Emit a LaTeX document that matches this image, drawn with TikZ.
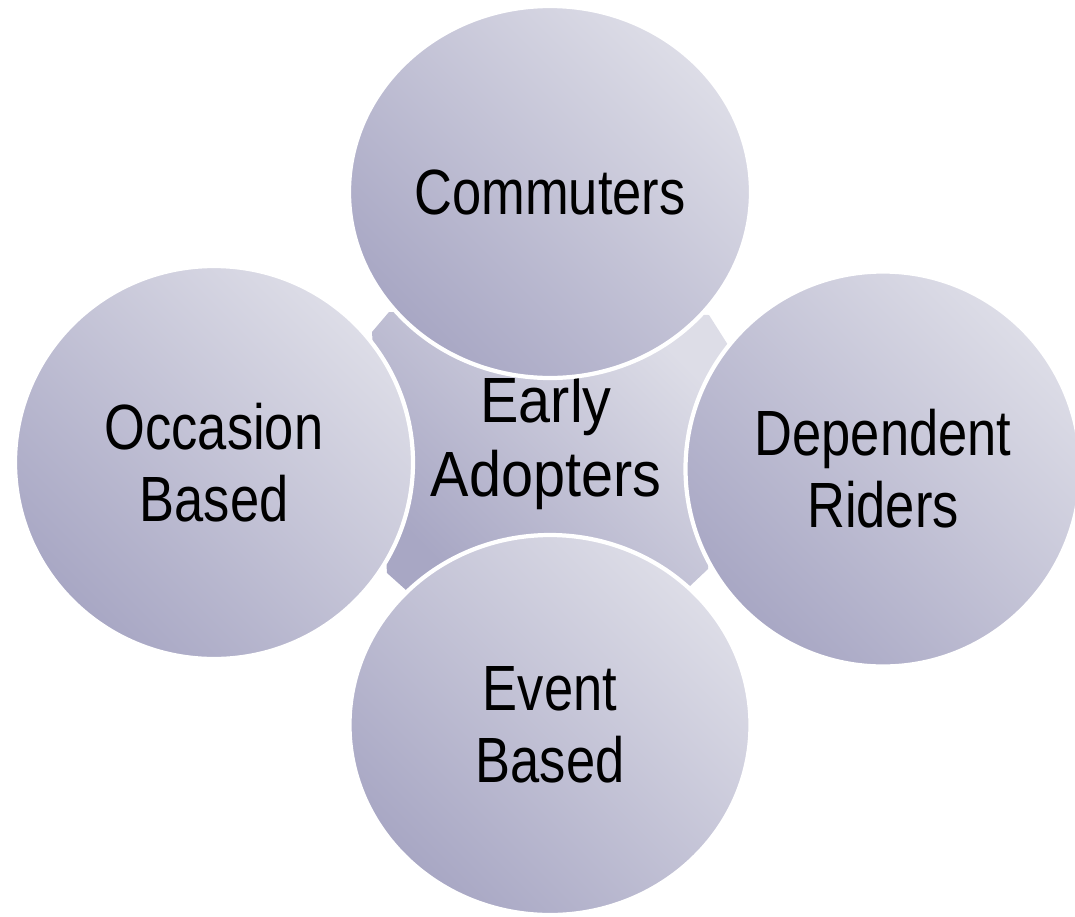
\documentclass[tikz,border=0pt]{standalone}
\usepackage{fontspec}
\setmainfont{Liberation Sans}[FakeStretch=0.82]
\newfontfamily\hubfont{Liberation Sans}[FakeStretch=0.9]
\usetikzlibrary{shapes.geometric}
\definecolor{bubbledark}{RGB}{168,167,196}
\definecolor{bubblelight}{RGB}{221,221,231}
\tikzstyle{bubble} = [ellipse, inner sep=0pt, draw=white, line width=2.4pt, left color=bubbledark, right color=bubblelight, shading angle=135, align=center, font=\fontsize{36.4}{41}\selectfont]
\tikzstyle{hubtext} = [align=center, font=\hubfont\fontsize{36.4}{42}\selectfont]

\begin{document}
\begin{tikzpicture}
		\useasboundingbox (0,0) rectangle (21.5,-18.32);
		% centre piece behind the circles
		\shade [left color=bubbledark, right color=bubblelight, shading angle=135] (7.44,-6.64) -- (7.78,-6.24) -- (14.18,-6.30) -- (14.56,-6.90) -- (14.16,-11.38) -- (13.80,-11.72) -- (8.12,-11.80) -- (7.74,-11.46) -- cycle;
		\node (hub) [hubtext] at (10.92,-8.86) {Early\\Adopters};
		
		\node (commuters) [bubble, above of=hub, xshift=0.08cm, yshift=4.02cm, minimum width=8.04cm, minimum height=7.44cm] {Commuters};
		\node (occasion) [bubble, left of=hub, xshift=-5.64cm, yshift=-0.39cm, minimum width=7.96cm, minimum height=7.86cm] {Occasion\\Based};
		\node (dependent) [bubble, right of=hub, xshift=5.74cm, yshift=-0.52cm, minimum width=7.9cm, minimum height=7.9cm] {Dependent\\Riders};
		\node (event) [bubble, below of=hub, xshift=0.08cm, yshift=-4.64cm, minimum width=8.02cm, minimum height=7.6cm] {Event\\Based};
	\end{tikzpicture}
\end{document}
